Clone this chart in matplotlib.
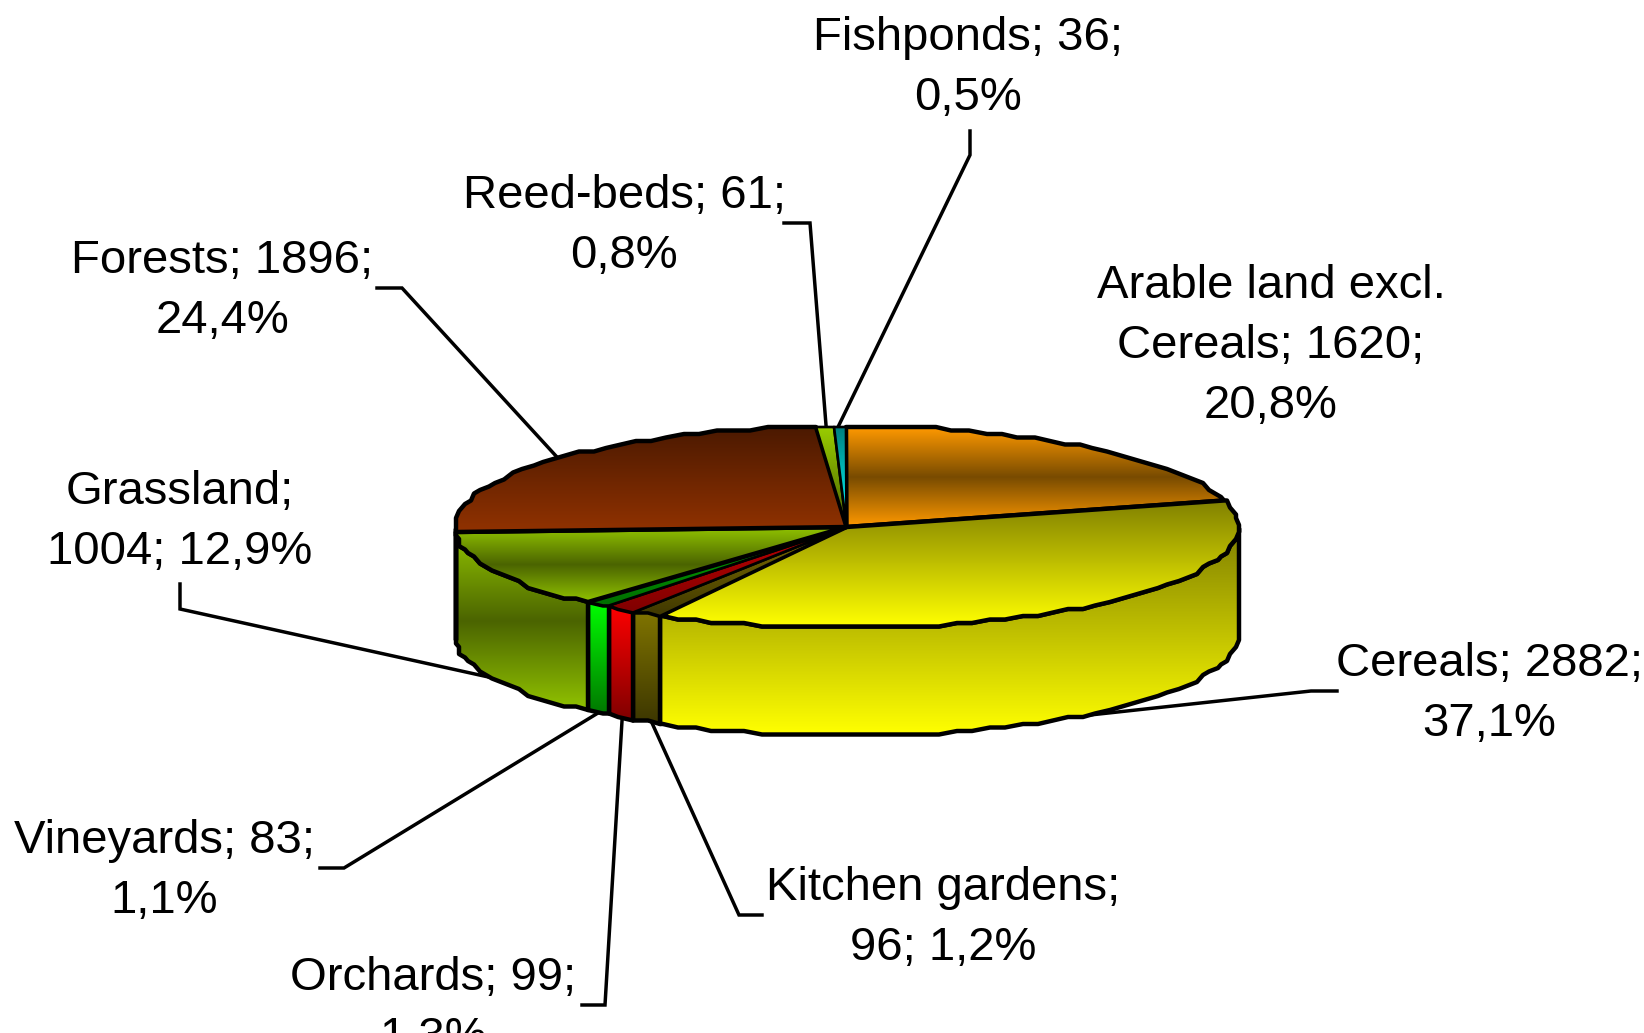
import numpy as np
import matplotlib
matplotlib.use("Agg")
import matplotlib.pyplot as plt
from matplotlib.patches import Polygon

plt.rcParams['font.family'] = ['Liberation Sans', 'DejaVu Sans']

names = ["Arable land excl.\nCereals", "Cereals", "Kitchen gardens", "Orchards", "Vineyards",
         "Grassland", "Forests", "Reed-beds", "Fishponds"]
values = [1620, 2882, 96, 99, 83, 1004, 1896, 61, 36]
label_texts = ["Arable land excl.\nCereals; 1620;\n20,8%", "Cereals; 2882;\n37,1%",
               "Kitchen gardens;\n96; 1,2%", "Orchards; 99;\n1,3%", "Vineyards; 83;\n1,1%",
               "Grassland;\n1004; 12,9%", "Forests; 1896;\n24,4%", "Reed-beds; 61;\n0,8%",
               "Fishponds; 36;\n0,5%"]
label_pos = [(1271, 346), (1489, 694), (943, 918), (433, 1008), (164, 871),
             (180, 522), (222, 291), (624, 226), (968, 68)]
leaders = [None,
           [(1337, 691), (1311, 691), (1090, 715)],
           [(762, 915), (739, 915), (652, 723)],
           [(582, 1005), (605, 1005), (622, 721)],
           [(320, 868), (344, 868), (598, 713)],
           [(180, 584), (180, 609), (493, 678)],
           [(377, 288), (402, 288), (556, 456)],
           [(784, 223), (810, 223), (826, 425)],
           [(970, 131), (970, 155), (839, 425)]]
top_stops = [[(255, 153, 0), (120, 75, 0), (255, 153, 0)],
             [(128, 128, 0), (255, 255, 0)],
             [(128, 112, 0), (64, 56, 0)],
             [(190, 0, 0), (128, 0, 0)],
             [(0, 170, 0), (0, 110, 0)],
             [(145, 195, 0), (75, 100, 0), (145, 195, 0)],
             [(75, 25, 0), (145, 50, 0)],
             [(153, 204, 0), (75, 100, 0)],
             [(0, 128, 128), (0, 255, 255)]]
side_stops = [[(255, 153, 0), (120, 75, 0), (255, 153, 0)],
              [(128, 128, 0), (255, 255, 0)],
              [(128, 116, 0), (60, 54, 0)],
              [(255, 0, 0), (128, 0, 0)],
              [(0, 255, 0), (0, 120, 0)],
              [(145, 195, 0), (75, 100, 0), (145, 195, 0)],
              [(145, 50, 0), (75, 25, 0)],
              [(153, 204, 0), (75, 100, 0)],
              [(0, 128, 128), (0, 255, 255)]]

CX, CY, RX, RY, DEPTH = 846.5, 527.0, 392.0, 101.0, 108.0
STEP = 2.6
LW = 3.2


def arc(t0, t1, dy=0.0):
    inner = np.arange(np.ceil(t0 / STEP), np.floor(t1 / STEP) + 1) * STEP
    t = np.radians(np.concatenate([[t0], inner, [t1]]))
    x = np.round((CX + RX * np.sin(t)) / 3) * 3
    y = np.round((CY - RY * np.cos(t)) / 3.5) * 3.5 + dy
    return np.column_stack([x, y])


def gradient(ax, pts, stops, zorder, lw=LW):
    """Fill a polygon with a vertical gradient spanning its bounding box."""
    cols = np.array(stops, float) / 255
    pos = np.linspace(0, 1, len(cols))
    s = np.linspace(0, 1, 256)
    img = np.stack([np.interp(s, pos, cols[:, i]) for i in range(3)], axis=1)[:, None, :]
    x0, y0 = pts.min(axis=0)
    x1, y1 = pts.max(axis=0)
    im = ax.imshow(img, extent=(x0, max(x1, x0 + 1), y1, y0), aspect='auto',
                   interpolation='bilinear', zorder=zorder)
    poly = Polygon(pts, closed=True, fc='none', ec='black', lw=lw, joinstyle='round', zorder=zorder + 0.1)
    ax.add_patch(poly)
    im.set_clip_path(poly)


fig = plt.figure(figsize=(16.44, 10.33), dpi=100)
ax = fig.add_axes([0, 0, 1, 1])
ax.axis('off')

edges = np.concatenate([[0], np.cumsum(values)]) / np.sum(values) * 360.0

# side walls (only the front half of the disc is visible)
for i in range(len(values)):
    a, b = max(edges[i], 90.0), min(edges[i + 1], 270.0)
    if b <= a:
        continue
    upper = arc(a, b)
    lower = arc(a, b, DEPTH)
    gradient(ax, np.vstack([upper, lower[::-1]]), side_stops[i], 2 + i * 0.2)

# top faces: the narrow slices get a finer outline so their colour stays visible
for i in range(len(values)):
    pts = np.vstack([[[CX, CY]], arc(edges[i], edges[i + 1])])
    narrow = values[i] < 150
    gradient(ax, pts, top_stops[i], 5 + i * 0.2, lw=LW * (0.6 if narrow else 1.0))

# leader lines
for seg in leaders:
    if seg is not None:
        xs, ys = zip(*seg)
        ax.plot(xs, ys, color='black', lw=2.5, solid_joinstyle='miter', zorder=1)

# labels
for txt, (x, y) in zip(label_texts, label_pos):
    ax.text(x, y, txt, fontsize=34, ha='center', va='center', linespacing=1.47,
            color='black', zorder=10, clip_on=False)

ax.set_xlim(0, 1644)
ax.set_ylim(1033, 0)
fig.savefig("out.png", dpi=100, facecolor='white')
